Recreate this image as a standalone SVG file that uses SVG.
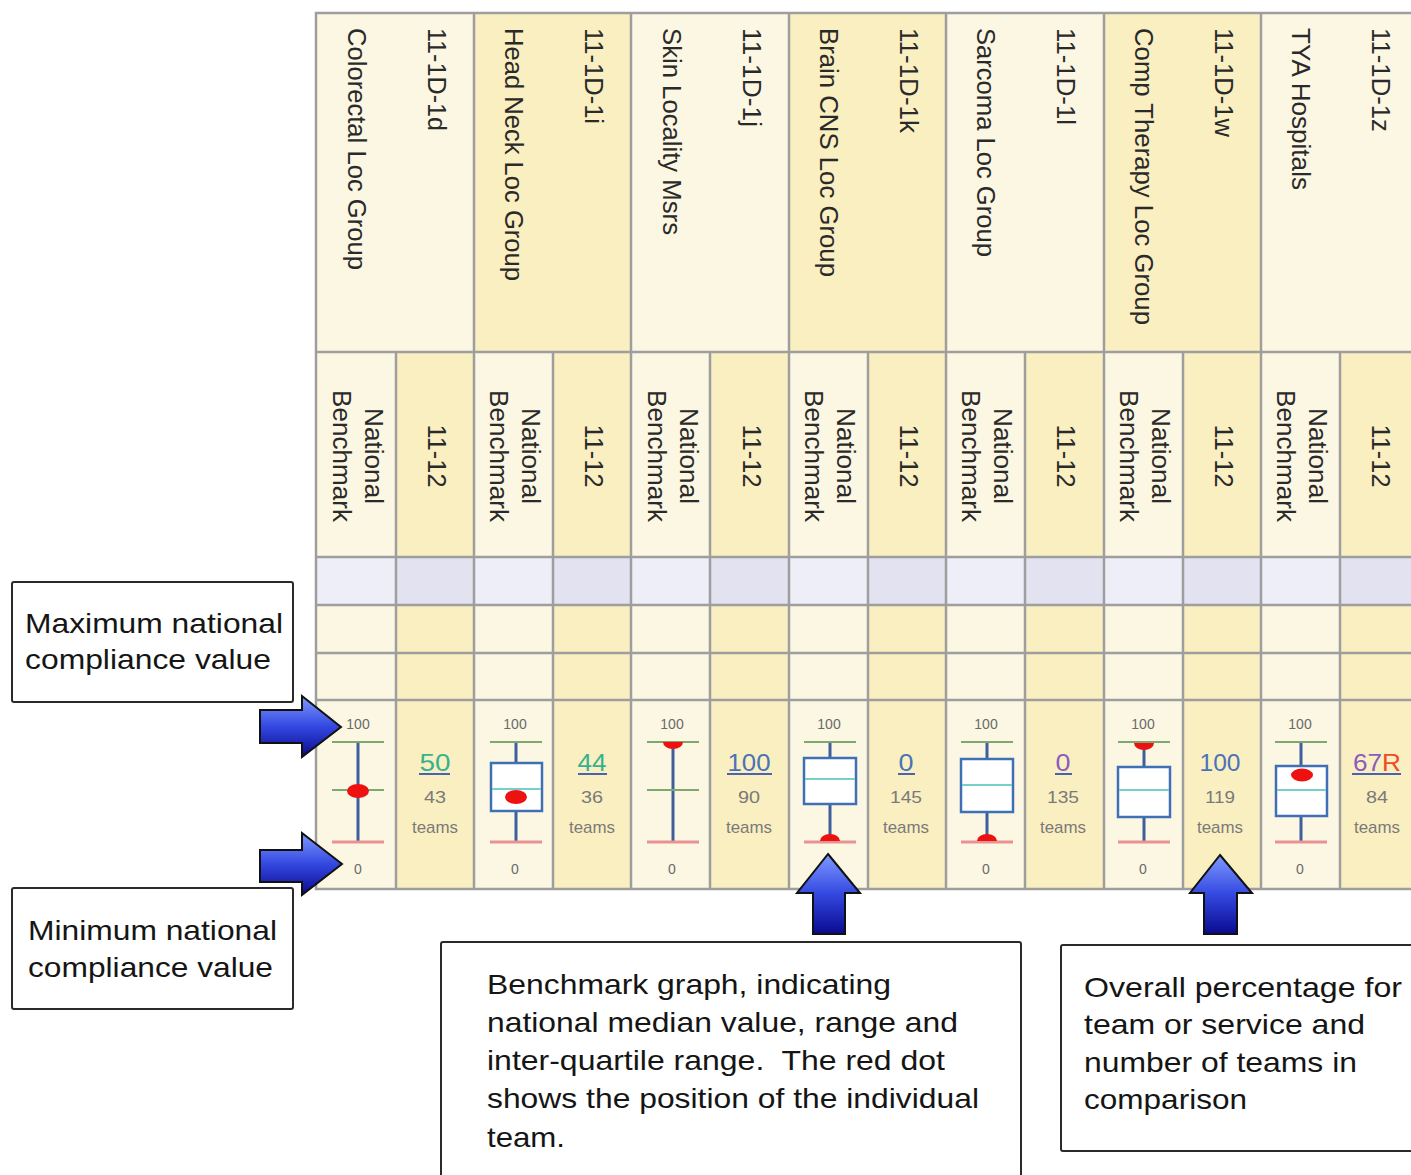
<svg xmlns="http://www.w3.org/2000/svg" width="1411" height="1175" viewBox="0 0 1411 1175">
<style>
text{font-family:"Liberation Sans",Arial,sans-serif}
.hd{font-size:25.5px;fill:#2a2a2a}
.sh{font-size:25.5px;fill:#2a2a2a;text-anchor:middle}
.cr{fill:#FCF7E3}
.yl{fill:#FAEFC0}
.lv1{fill:#EEEEF8}
.lv2{fill:#E2E2F0}
.grid line{stroke:#9E9E9E;stroke-width:2.5}
.tk{font-size:14px;fill:#6a6a6a;text-anchor:middle}
.val{font-size:24px;text-anchor:middle}
.cnt{font-size:17px;fill:#7a7a7a;text-anchor:middle}
.ul{stroke:#4A62B0;stroke-width:2}
.wt{stroke:#7FA870;stroke-width:2}
.wb{stroke:#E89292;stroke-width:3}
.wv{stroke:#3E5E9C;stroke-width:3}
.bx{fill:#ffffff;stroke:#3F6FB5;stroke-width:2.5}
.md{stroke:#74D0C8;stroke-width:2}
.dot{fill:#EE1111}
.cb{fill:#ffffff;stroke:#2a2a2a;stroke-width:2}
.ct{font-size:28px;fill:#151515}
.arr{fill:url(#ag);stroke:#111;stroke-width:2;stroke-linejoin:miter}
</style>
<defs>
<linearGradient id="ag" x1="0" y1="0" x2="0" y2="1">
<stop offset="0" stop-color="#7F9AFF"/>
<stop offset="0.5" stop-color="#3348E0"/>
<stop offset="1" stop-color="#0A0A90"/>
</linearGradient>
</defs>
<rect width="1411" height="1175" fill="#ffffff"/>

<g id="table-background">
<rect class="cr" x="316" y="13" width="158" height="339"/>
<rect class="yl" x="474" y="13" width="157" height="339"/>
<rect class="cr" x="631" y="13" width="158" height="339"/>
<rect class="yl" x="789" y="13" width="157" height="339"/>
<rect class="cr" x="946" y="13" width="158" height="339"/>
<rect class="yl" x="1104" y="13" width="157" height="339"/>
<rect class="cr" x="1261" y="13" width="160" height="339"/>

<rect class="cr" x="316" y="352" width="80" height="537"/>
<rect class="yl" x="396" y="352" width="78" height="537"/>
<rect class="cr" x="474" y="352" width="79" height="537"/>
<rect class="yl" x="553" y="352" width="78" height="537"/>
<rect class="cr" x="631" y="352" width="79" height="537"/>
<rect class="yl" x="710" y="352" width="79" height="537"/>
<rect class="cr" x="789" y="352" width="79" height="537"/>
<rect class="yl" x="868" y="352" width="78" height="537"/>
<rect class="cr" x="946" y="352" width="79" height="537"/>
<rect class="yl" x="1025" y="352" width="79" height="537"/>
<rect class="cr" x="1104" y="352" width="79" height="537"/>
<rect class="yl" x="1183" y="352" width="78" height="537"/>
<rect class="cr" x="1261" y="352" width="79" height="537"/>
<rect class="yl" x="1340" y="352" width="80" height="537"/>

<rect class="lv1" x="316" y="557" width="80" height="48"/>
<rect class="lv2" x="396" y="557" width="78" height="48"/>
<rect class="lv1" x="474" y="557" width="79" height="48"/>
<rect class="lv2" x="553" y="557" width="78" height="48"/>
<rect class="lv1" x="631" y="557" width="79" height="48"/>
<rect class="lv2" x="710" y="557" width="79" height="48"/>
<rect class="lv1" x="789" y="557" width="79" height="48"/>
<rect class="lv2" x="868" y="557" width="78" height="48"/>
<rect class="lv1" x="946" y="557" width="79" height="48"/>
<rect class="lv2" x="1025" y="557" width="79" height="48"/>
<rect class="lv1" x="1104" y="557" width="79" height="48"/>
<rect class="lv2" x="1183" y="557" width="78" height="48"/>
<rect class="lv1" x="1261" y="557" width="79" height="48"/>
<rect class="lv2" x="1340" y="557" width="80" height="48"/>
</g>

<g id="grid" class="grid">
<line x1="316" y1="12" x2="316" y2="890"/>
<line x1="474" y1="13" x2="474" y2="889"/>
<line x1="631" y1="13" x2="631" y2="889"/>
<line x1="789" y1="13" x2="789" y2="889"/>
<line x1="946" y1="13" x2="946" y2="889"/>
<line x1="1104" y1="13" x2="1104" y2="889"/>
<line x1="1261" y1="13" x2="1261" y2="889"/>
<line x1="396" y1="352" x2="396" y2="889"/>
<line x1="553" y1="352" x2="553" y2="889"/>
<line x1="710" y1="352" x2="710" y2="889"/>
<line x1="868" y1="352" x2="868" y2="889"/>
<line x1="1025" y1="352" x2="1025" y2="889"/>
<line x1="1183" y1="352" x2="1183" y2="889"/>
<line x1="1340" y1="352" x2="1340" y2="889"/>
<line x1="315" y1="13" x2="1411" y2="13"/>
<line x1="316" y1="352" x2="1411" y2="352"/>
<line x1="316" y1="557" x2="1411" y2="557"/>
<line x1="316" y1="605" x2="1411" y2="605"/>
<line x1="316" y1="653" x2="1411" y2="653"/>
<line x1="316" y1="700" x2="1411" y2="700"/>
<line x1="315" y1="889" x2="1411" y2="889"/>
</g>

<g id="header-titles">
<text class="hd" transform="translate(348,28) rotate(90)" textLength="242" lengthAdjust="spacingAndGlyphs">Colorectal Loc Group</text>
<text class="hd" transform="translate(428,28) rotate(90)" textLength="103" lengthAdjust="spacingAndGlyphs">11-1D-1d</text>
<text class="hd" transform="translate(505.3,28) rotate(90)" textLength="253" lengthAdjust="spacingAndGlyphs">Head Neck Loc Group</text>
<text class="hd" transform="translate(585.3,28) rotate(90)" textLength="96" lengthAdjust="spacingAndGlyphs">11-1D-1i</text>
<text class="hd" transform="translate(662.6,28) rotate(90)" textLength="207" lengthAdjust="spacingAndGlyphs">Skin Locality Msrs</text>
<text class="hd" transform="translate(742.6,28) rotate(90)" textLength="99" lengthAdjust="spacingAndGlyphs">11-1D-1j</text>
<text class="hd" transform="translate(819.9,28) rotate(90)" textLength="249" lengthAdjust="spacingAndGlyphs">Brain CNS Loc Group</text>
<text class="hd" transform="translate(899.9,28) rotate(90)" textLength="105" lengthAdjust="spacingAndGlyphs">11-1D-1k</text>
<text class="hd" transform="translate(977.2,28) rotate(90)" textLength="229" lengthAdjust="spacingAndGlyphs">Sarcoma Loc Group</text>
<text class="hd" transform="translate(1057.2,28) rotate(90)" textLength="97" lengthAdjust="spacingAndGlyphs">11-1D-1l</text>
<text class="hd" transform="translate(1134.5,28) rotate(90)" textLength="297" lengthAdjust="spacingAndGlyphs">Comp Therapy Loc Group</text>
<text class="hd" transform="translate(1214.5,28) rotate(90)" textLength="109" lengthAdjust="spacingAndGlyphs">11-1D-1w</text>
<text class="hd" transform="translate(1291.8,28) rotate(90)" textLength="162" lengthAdjust="spacingAndGlyphs">TYA Hospitals</text>
<text class="hd" transform="translate(1371.8,28) rotate(90)" textLength="104" lengthAdjust="spacingAndGlyphs">11-1D-1z</text>
</g>

<g id="subheaders">
<text class="sh" transform="translate(365,456) rotate(90)" textLength="96" lengthAdjust="spacingAndGlyphs">National</text>
<text class="sh" transform="translate(333,456) rotate(90)" textLength="132" lengthAdjust="spacingAndGlyphs">Benchmark</text>
<text class="sh" transform="translate(428,456) rotate(90)" textLength="63" lengthAdjust="spacingAndGlyphs">11-12</text>
<text class="sh" transform="translate(522.3,456) rotate(90)" textLength="96" lengthAdjust="spacingAndGlyphs">National</text>
<text class="sh" transform="translate(490.3,456) rotate(90)" textLength="132" lengthAdjust="spacingAndGlyphs">Benchmark</text>
<text class="sh" transform="translate(585.3,456) rotate(90)" textLength="63" lengthAdjust="spacingAndGlyphs">11-12</text>
<text class="sh" transform="translate(679.6,456) rotate(90)" textLength="96" lengthAdjust="spacingAndGlyphs">National</text>
<text class="sh" transform="translate(647.6,456) rotate(90)" textLength="132" lengthAdjust="spacingAndGlyphs">Benchmark</text>
<text class="sh" transform="translate(742.6,456) rotate(90)" textLength="63" lengthAdjust="spacingAndGlyphs">11-12</text>
<text class="sh" transform="translate(836.9,456) rotate(90)" textLength="96" lengthAdjust="spacingAndGlyphs">National</text>
<text class="sh" transform="translate(804.9,456) rotate(90)" textLength="132" lengthAdjust="spacingAndGlyphs">Benchmark</text>
<text class="sh" transform="translate(899.9,456) rotate(90)" textLength="63" lengthAdjust="spacingAndGlyphs">11-12</text>
<text class="sh" transform="translate(994.2,456) rotate(90)" textLength="96" lengthAdjust="spacingAndGlyphs">National</text>
<text class="sh" transform="translate(962.2,456) rotate(90)" textLength="132" lengthAdjust="spacingAndGlyphs">Benchmark</text>
<text class="sh" transform="translate(1057.2,456) rotate(90)" textLength="63" lengthAdjust="spacingAndGlyphs">11-12</text>
<text class="sh" transform="translate(1151.5,456) rotate(90)" textLength="96" lengthAdjust="spacingAndGlyphs">National</text>
<text class="sh" transform="translate(1119.5,456) rotate(90)" textLength="132" lengthAdjust="spacingAndGlyphs">Benchmark</text>
<text class="sh" transform="translate(1214.5,456) rotate(90)" textLength="63" lengthAdjust="spacingAndGlyphs">11-12</text>
<text class="sh" transform="translate(1308.8,456) rotate(90)" textLength="96" lengthAdjust="spacingAndGlyphs">National</text>
<text class="sh" transform="translate(1276.8,456) rotate(90)" textLength="132" lengthAdjust="spacingAndGlyphs">Benchmark</text>
<text class="sh" transform="translate(1371.8,456) rotate(90)" textLength="63" lengthAdjust="spacingAndGlyphs">11-12</text>
</g>

<g id="benchmark-plots">
<g id="plot-colorectal">
<text class="tk" x="358" y="729">100</text><text class="tk" x="358" y="874">0</text>
<line class="wv" x1="358" y1="742" x2="358" y2="842"/>
<line class="wt" x1="332" y1="742" x2="384" y2="742"/>
<line class="wt" x1="332" y1="790" x2="384" y2="790"/>
<line class="wb" x1="332" y1="842" x2="384" y2="842"/>
<ellipse class="dot" cx="358" cy="791" rx="11" ry="7"/>
</g>
<g id="plot-headneck">
<text class="tk" x="515" y="729">100</text><text class="tk" x="515" y="874">0</text>
<line class="wv" x1="516" y1="742" x2="516" y2="842"/>
<line class="wt" x1="490" y1="742" x2="542" y2="742"/>
<line class="wb" x1="490" y1="842" x2="542" y2="842"/>
<rect class="bx" x="491" y="763" width="51" height="48"/>
<line class="md" x1="492" y1="789" x2="541" y2="789"/>
<ellipse class="dot" cx="516" cy="797" rx="11" ry="7"/>
</g>
<g id="plot-skin">
<text class="tk" x="672" y="729">100</text><text class="tk" x="672" y="874">0</text>
<line class="wv" x1="673" y1="742" x2="673" y2="842"/>
<line class="wt" x1="647" y1="742" x2="699" y2="742"/>
<line class="wt" x1="647" y1="790" x2="699" y2="790"/>
<line class="wb" x1="647" y1="842" x2="699" y2="842"/>
<path class="dot" d="M663,742 A10,7 0 0 0 683,742 Z"/>
</g>
<g id="plot-brain">
<text class="tk" x="829" y="729">100</text><text class="tk" x="829" y="874">0</text>
<line class="wv" x1="830" y1="742" x2="830" y2="842"/>
<line class="wt" x1="804" y1="742" x2="856" y2="742"/>
<line class="wb" x1="804" y1="842" x2="856" y2="842"/>
<rect class="bx" x="804" y="758" width="52" height="46"/>
<line class="md" x1="805" y1="779" x2="855" y2="779"/>
<path class="dot" d="M820,841 A10,7 0 0 1 840,841 Z"/>
</g>
<g id="plot-sarcoma">
<text class="tk" x="986" y="729">100</text><text class="tk" x="986" y="874">0</text>
<line class="wv" x1="987" y1="742" x2="987" y2="842"/>
<line class="wt" x1="961" y1="742" x2="1013" y2="742"/>
<line class="wb" x1="961" y1="842" x2="1013" y2="842"/>
<rect class="bx" x="961" y="759" width="52" height="53"/>
<line class="md" x1="962" y1="785" x2="1012" y2="785"/>
<path class="dot" d="M977,841 A10,7 0 0 1 997,841 Z"/>
</g>
<g id="plot-comptherapy">
<text class="tk" x="1143" y="729">100</text><text class="tk" x="1143" y="874">0</text>
<line class="wv" x1="1144" y1="742" x2="1144" y2="842"/>
<line class="wt" x1="1118" y1="742" x2="1170" y2="742"/>
<line class="wb" x1="1118" y1="842" x2="1170" y2="842"/>
<rect class="bx" x="1118" y="767" width="52" height="50"/>
<line class="md" x1="1119" y1="790" x2="1169" y2="790"/>
<path class="dot" d="M1134,743 A10,7 0 0 0 1154,743 Z"/>
</g>
<g id="plot-tya">
<text class="tk" x="1300" y="729">100</text><text class="tk" x="1300" y="874">0</text>
<line class="wv" x1="1301" y1="742" x2="1301" y2="842"/>
<line class="wt" x1="1275" y1="742" x2="1327" y2="742"/>
<line class="wb" x1="1275" y1="842" x2="1327" y2="842"/>
<rect class="bx" x="1276" y="766" width="51" height="50"/>
<line class="md" x1="1277" y1="790" x2="1326" y2="790"/>
<ellipse class="dot" cx="1302" cy="775" rx="11" ry="6.5"/>
</g>
</g>

<g id="scores">
<g id="score-1d">
<text class="val" x="435" y="771" fill="#36B28E" textLength="31" lengthAdjust="spacingAndGlyphs">50</text>
<line class="ul" x1="419" y1="774" x2="450" y2="774"/>
<text class="cnt" x="435" y="803" textLength="22" lengthAdjust="spacingAndGlyphs">43</text>
<text class="cnt" x="435" y="833" textLength="46" lengthAdjust="spacingAndGlyphs">teams</text>
</g>
<g id="score-1i">
<text class="val" x="592" y="771" fill="#36B28E" textLength="29" lengthAdjust="spacingAndGlyphs">44</text>
<line class="ul" x1="578" y1="774" x2="607" y2="774"/>
<text class="cnt" x="592" y="803" textLength="22" lengthAdjust="spacingAndGlyphs">36</text>
<text class="cnt" x="592" y="833" textLength="46" lengthAdjust="spacingAndGlyphs">teams</text>
</g>
<g id="score-1j">
<text class="val" x="749" y="771" fill="#4A72B8" textLength="43" lengthAdjust="spacingAndGlyphs">100</text>
<line class="ul" x1="727" y1="774" x2="772" y2="774"/>
<text class="cnt" x="749" y="803" textLength="22" lengthAdjust="spacingAndGlyphs">90</text>
<text class="cnt" x="749" y="833" textLength="46" lengthAdjust="spacingAndGlyphs">teams</text>
</g>
<g id="score-1k">
<text class="val" x="906" y="771" fill="#4A72B8" textLength="15" lengthAdjust="spacingAndGlyphs">0</text>
<line class="ul" x1="898" y1="774" x2="915" y2="774"/>
<text class="cnt" x="906" y="803" textLength="32" lengthAdjust="spacingAndGlyphs">145</text>
<text class="cnt" x="906" y="833" textLength="46" lengthAdjust="spacingAndGlyphs">teams</text>
</g>
<g id="score-1l">
<text class="val" x="1063" y="771" fill="#8A5CC0" textLength="15" lengthAdjust="spacingAndGlyphs">0</text>
<line class="ul" x1="1055" y1="774" x2="1072" y2="774"/>
<text class="cnt" x="1063" y="803" textLength="32" lengthAdjust="spacingAndGlyphs">135</text>
<text class="cnt" x="1063" y="833" textLength="46" lengthAdjust="spacingAndGlyphs">teams</text>
</g>
<g id="score-1w">
<text class="val" x="1220" y="771" fill="#4A72B8" textLength="41" lengthAdjust="spacingAndGlyphs">100</text>
<text class="cnt" x="1220" y="803" textLength="30" lengthAdjust="spacingAndGlyphs">119</text>
<text class="cnt" x="1220" y="833" textLength="46" lengthAdjust="spacingAndGlyphs">teams</text>
</g>
<g id="score-1z">
<text class="val" x="1377" y="771" textLength="48" lengthAdjust="spacingAndGlyphs"><tspan fill="#8A5CC0">67</tspan><tspan fill="#F04A28">R</tspan></text>
<line class="ul" x1="1352" y1="774" x2="1401" y2="774"/>
<text class="cnt" x="1377" y="803" textLength="22" lengthAdjust="spacingAndGlyphs">84</text>
<text class="cnt" x="1377" y="833" textLength="46" lengthAdjust="spacingAndGlyphs">teams</text>
</g>
</g>

<g id="callout-max">
<rect class="cb" x="12" y="582" width="281" height="120" rx="2"/>
<text class="ct" x="25" y="633" textLength="258" lengthAdjust="spacingAndGlyphs">Maximum national</text>
<text class="ct" x="25" y="669" textLength="246" lengthAdjust="spacingAndGlyphs">compliance value</text>
</g>
<g id="callout-min">
<rect class="cb" x="12" y="888" width="281" height="121" rx="2"/>
<text class="ct" x="28" y="940" textLength="249" lengthAdjust="spacingAndGlyphs">Minimum national</text>
<text class="ct" x="28" y="977" textLength="245" lengthAdjust="spacingAndGlyphs">compliance value</text>
</g>
<g id="callout-benchmark">
<rect class="cb" x="441" y="942" width="580" height="260" rx="2"/>
<text class="ct" x="487" y="994" textLength="404" lengthAdjust="spacingAndGlyphs">Benchmark graph, indicating</text>
<text class="ct" x="487" y="1032" textLength="471" lengthAdjust="spacingAndGlyphs">national median value, range and</text>
<text class="ct" x="487" y="1070" textLength="458" lengthAdjust="spacingAndGlyphs" xml:space="preserve">inter-quartile range.  The red dot</text>
<text class="ct" x="487" y="1108" textLength="492" lengthAdjust="spacingAndGlyphs">shows the position of the individual</text>
<text class="ct" x="487" y="1147" textLength="78" lengthAdjust="spacingAndGlyphs">team.</text>
</g>
<g id="callout-overall">
<rect class="cb" x="1061" y="945" width="370" height="206" rx="2"/>
<text class="ct" x="1084" y="997" textLength="318" lengthAdjust="spacingAndGlyphs">Overall percentage for</text>
<text class="ct" x="1084" y="1034" textLength="281" lengthAdjust="spacingAndGlyphs">team or service and</text>
<text class="ct" x="1084" y="1072" textLength="273" lengthAdjust="spacingAndGlyphs">number of teams in</text>
<text class="ct" x="1084" y="1109" textLength="163" lengthAdjust="spacingAndGlyphs">comparison</text>
</g>

<g id="connectors">
<polygon class="arr" points="260,710 302,710 302,696 341,727 302,757 302,743 260,743"/>
<polygon class="arr" points="260,850 302,850 302,833 342,864 302,895 302,882 260,882"/>
<polygon class="arr" points="828,854 860,893 845,893 845,934 813,934 813,893 797,893"/>
<polygon class="arr" points="1220,855 1252,893 1237,893 1237,934 1204,934 1204,893 1190,893"/>
</g>
</svg>
